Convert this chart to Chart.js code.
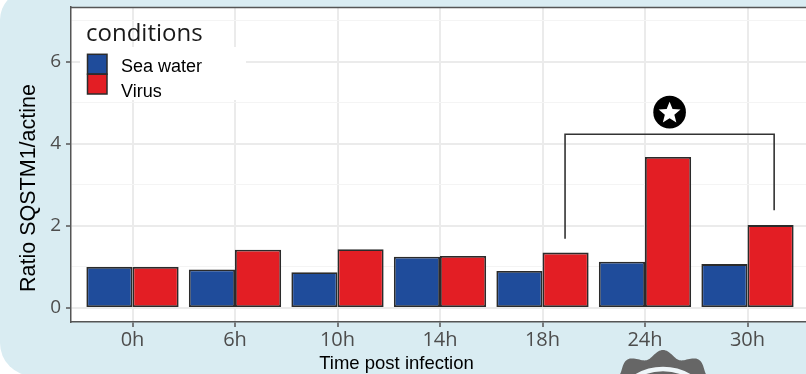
<!DOCTYPE html>
<html>
<head>
<meta charset="utf-8">
<script src="https://cdn.jsdelivr.net/npm/chart.js@4/dist/chart.umd.min.js"></script>
<style>
  html, body { margin: 0; padding: 0; width: 806px; height: 374px; overflow: hidden; background: #ffffff; }
  #bg { position: absolute; left: 0; top: -10px; width: 900px; height: 386px; background: #d9ecf2;
        border-radius: 30px 0 0 33px; }
  #wrap { position: absolute; left: 0; top: 0; width: 830px; height: 374px; }
</style>
</head>
<body>
<div id="bg"></div>
<div id="wrap"><canvas id="c" width="830" height="374"></canvas></div>
<script>
// Relative SQSTM1 expression per time point
const categories = ['0h', '6h', '10h', '14h', '18h', '24h', '30h'];
const seaWater   = [1.00, 0.94, 0.87, 1.25, 0.90, 1.13, 1.07];
const virus      = [1.00, 1.42, 1.43, 1.27, 1.35, 3.68, 2.02];
const yTickLabels = [0, 2, 4, 6];
const seriesNames = ['Sea water', 'Virus'];

// Significance bracket: from the 18h virus bar to the 30h virus bar
const bracketFrom = 4.22, bracketTo = 6.26;
const bracketLevel = 4.23;
const bracketFeet = [1.69, 2.38];
const starLevel = 4.77;

const BLUE = '#1f4c9b';
const RED = '#e31e24';
const EDGE = '#2b2b2b';

const decorations = {
  id: 'decorations',
  beforeDraw(chart) {
    const { ctx, chartArea: a } = chart;
    ctx.save();
    ctx.fillStyle = '#ffffff';
    ctx.fillRect(a.left, a.top, a.right - a.left, a.bottom - a.top);
    ctx.restore();
  },
  beforeDatasetsDraw(chart) {
    const { ctx } = chart;
    // legend key background
    ctx.save();
    ctx.fillStyle = '#ffffff';
    ctx.fillRect(80, 47, 166, 53);
    ctx.restore();
  },
  afterDatasetsDraw(chart) {
    const { ctx, chartArea: a, scales: { x, y } } = chart;
    ctx.save();

    // panel top border
    ctx.strokeStyle = '#555555';
    ctx.lineWidth = 1.5;
    ctx.beginPath();
    ctx.moveTo(a.left, a.top + 0.5);
    ctx.lineTo(a.right, a.top + 0.5);
    ctx.stroke();

    // bracket
    const x1 = x.getPixelForValue(bracketFrom), x2 = x.getPixelForValue(bracketTo);
    const yl = y.getPixelForValue(bracketLevel);
    ctx.strokeStyle = '#333333';
    ctx.lineWidth = 1.6;
    ctx.beginPath();
    ctx.moveTo(x1, y.getPixelForValue(bracketFeet[0]));
    ctx.lineTo(x1, yl);
    ctx.lineTo(x2, yl);
    ctx.lineTo(x2, y.getPixelForValue(bracketFeet[1]));
    ctx.stroke();

    // star badge
    const cx = (x1 + x2) / 2, cy = y.getPixelForValue(starLevel);
    ctx.fillStyle = '#000000';
    ctx.beginPath();
    ctx.arc(cx, cy, 16.3, 0, Math.PI * 2);
    ctx.fill();
    ctx.fillStyle = '#ffffff';
    ctx.beginPath();
    for (let i = 0; i < 10; i++) {
      const r = i % 2 === 0 ? 11.5 : 5.0;
      const ang = -Math.PI / 2 + i * Math.PI / 5;
      const px = cx + r * Math.cos(ang), py = cy + 1 + r * Math.sin(ang);
      if (i === 0) ctx.moveTo(px, py); else ctx.lineTo(px, py);
    }
    ctx.closePath();
    ctx.fill();

    // legend
    ctx.fillStyle = '#1a1a1a';
    ctx.font = '24px "Open Sans"';
    ctx.textAlign = 'left';
    ctx.textBaseline = 'alphabetic';
    ctx.fillText('conditions', 86, 41);
    const keys = [[BLUE, 54.3], [RED, 74.2]];
    ctx.lineWidth = 1.5;
    ctx.strokeStyle = EDGE;
    keys.forEach(([col, ky]) => {
      ctx.fillStyle = col;
      ctx.fillRect(87.5, ky, 19.5, 19.8);
      ctx.strokeRect(87.5, ky, 19.5, 19.8);
    });
    ctx.fillStyle = '#000000';
    ctx.font = '18px "Liberation Sans"';
    ctx.fillText(seriesNames[0], 121, 72);
    ctx.fillText(seriesNames[1], 121, 96.5);

    // axis titles
    ctx.font = '18.5px "Liberation Sans"';
    ctx.textAlign = 'center';
    ctx.fillText('Time post infection', 396.5, 369);
    ctx.translate(29, 188);
    ctx.rotate(-Math.PI / 2);
    ctx.font = '21.5px "Liberation Sans"';
    ctx.textBaseline = 'middle';
    ctx.fillText('Ratio SQSTM1/actine', 0, 0);
    ctx.restore();

    // gear badge peeking in at the bottom edge
    ctx.save();
    const gx = 663, gy = 421;
    ctx.fillStyle = '#666666';
    ctx.beginPath();
    for (let i = 0; i <= 360; i++) {
      const t = i / 360 * Math.PI * 2;
      const r = 67 + 4 * Math.cos(12 * (t + Math.PI / 2));
      const px = gx + r * Math.cos(t), py = gy + r * Math.sin(t);
      if (i === 0) ctx.moveTo(px, py); else ctx.lineTo(px, py);
    }
    ctx.closePath();
    ctx.fill();
    ctx.strokeStyle = '#eef6f9';
    ctx.lineWidth = 4.5;
    ctx.beginPath();
    ctx.arc(gx, gy, 52, 0, Math.PI * 2);
    ctx.stroke();
    ctx.restore();
  }
};

const toPoints = arr => arr.map((v, i) => ({ x: i, y: v }));
const noPad = s => { s.paddingTop = 0; s.paddingBottom = 0; s.paddingLeft = 0; s.paddingRight = 0; };

new Chart(document.getElementById('c'), {
  type: 'bar',
  data: {
    datasets: [
      { label: seriesNames[0], data: toPoints(seaWater), backgroundColor: BLUE },
      { label: seriesNames[1], data: toPoints(virus), backgroundColor: RED }
    ]
  },
  options: {
    responsive: false,
    animation: false,
    layout: { padding: { left: 0, top: 7, right: 21, bottom: 0 } },
    datasets: {
      bar: {
        categoryPercentage: 0.9,
        barPercentage: 1.0,
        borderColor: EDGE,
        borderWidth: 1.8,
        borderSkipped: false
      }
    },
    plugins: { legend: { display: false }, tooltip: { enabled: false } },
    scales: {
      x: {
        type: 'linear',
        offset: false,
        min: -0.6,
        max: 6.6,
        afterBuildTicks: s => { s.ticks = categories.map((c, i) => ({ value: i })); },
        afterFit: s => { s.height = 52; noPad(s); },
        ticks: {
          callback: v => categories[v],
          color: '#4d4d4d',
          font: { family: '"Open Sans"', size: 20 },
          padding: 1,
          maxRotation: 0,
          autoSkip: false
        },
        grid: { offset: false, color: '#ebebeb', lineWidth: 2, tickLength: 5, tickColor: '#555555', tickWidth: 1.5 },
        border: { display: true, color: '#555555', width: 1.5 }
      },
      y: {
        type: 'linear',
        min: -0.34,
        max: 7.33,
        afterBuildTicks: s => { s.ticks = [0, 1, 2, 3, 4, 5, 6, 7].map(v => ({ value: v })); },
        afterFit: s => { s.width = 71; noPad(s); },
        ticks: {
          callback: v => yTickLabels.includes(v) ? String(v) : '',
          color: '#4d4d4d',
          font: { family: '"Open Sans"', size: 19 },
          padding: 5
        },
        grid: {
          color: c => (c.tick && c.tick.value % 2) ? '#f4f4f4' : '#ebebeb',
          lineWidth: c => (c.tick && c.tick.value % 2) ? 1 : 2,
          tickLength: 5,
          tickColor: c => (c.tick && c.tick.value % 2) ? 'rgba(0,0,0,0)' : '#555555',
          tickWidth: 1.5
        },
        border: { display: true, color: '#555555', width: 1.5 }
      }
    }
  },
  plugins: [decorations]
});
</script>
</body>
</html>
